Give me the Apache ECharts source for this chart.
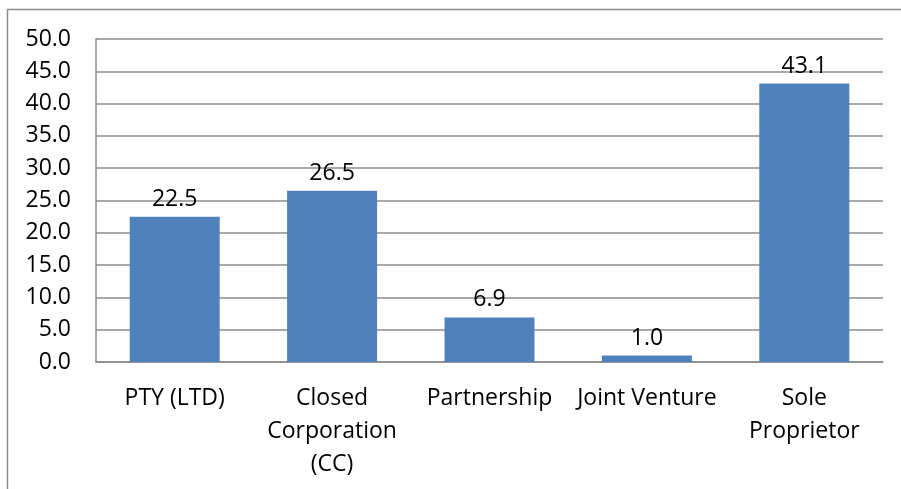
<!DOCTYPE html>
<html>
<head>
<meta charset="utf-8">
<style>
  html, body { margin: 0; padding: 0; background: #fff; }
  #chart { width: 901px; height: 489px; }
</style>
<script src="https://cdn.jsdelivr.net/npm/echarts@6/dist/echarts.min.js"></script>
</head>
<body>
<div id="chart"></div>
<script>
// Business types and their share (%)
const categories = ['PTY (LTD)', 'Closed\nCorporation\n(CC)', 'Partnership', 'Joint Venture', 'Sole\nProprietor'];
const shares = [22.5, 26.5, 6.9, 1.0, 43.1];

const FONT = '"Open Sans", sans-serif';
const chart = echarts.init(document.getElementById('chart'), null, { renderer: 'canvas' });

chart.setOption({
  animation: false,
  backgroundColor: '#ffffff',
  grid: { left: 96, right: 18, top: 39, bottom: 127, containLabel: false },
  graphic: [{
    type: 'rect',
    shape: { x: 7.5, y: 9.5, width: 1000, height: 1000 },
    style: { fill: 'none', stroke: '#8c8c8c', lineWidth: 1.5 },
    silent: true
  }],
  xAxis: {
    type: 'category',
    data: categories,
    axisLine: { show: true, lineStyle: { color: '#8c8c8c', width: 1.5 } },
    axisTick: { show: false },
    axisLabel: {
      color: '#000', fontFamily: FONT, fontSize: 23, lineHeight: 33,
      margin: 20, interval: 0
    }
  },
  yAxis: {
    type: 'value',
    min: 0, max: 50, interval: 5,
    axisLine: { show: true, lineStyle: { color: '#8c8c8c', width: 1.5 } },
    axisTick: { show: false },
    splitLine: { show: true, lineStyle: { color: '#8c8c8c', width: 1.5 } },
    axisLabel: {
      color: '#000', fontFamily: FONT, fontSize: 23, margin: 25,
      formatter: v => v.toFixed(1)
    }
  },
  series: [{
    type: 'bar',
    data: shares,
    barWidth: 90,
    itemStyle: { color: '#4f81bd' },
    label: {
      show: true, position: 'top', distance: 6,
      color: '#000', fontFamily: FONT, fontSize: 23,
      formatter: p => p.value.toFixed(1)
    }
  }]
});
</script>
</body>
</html>
